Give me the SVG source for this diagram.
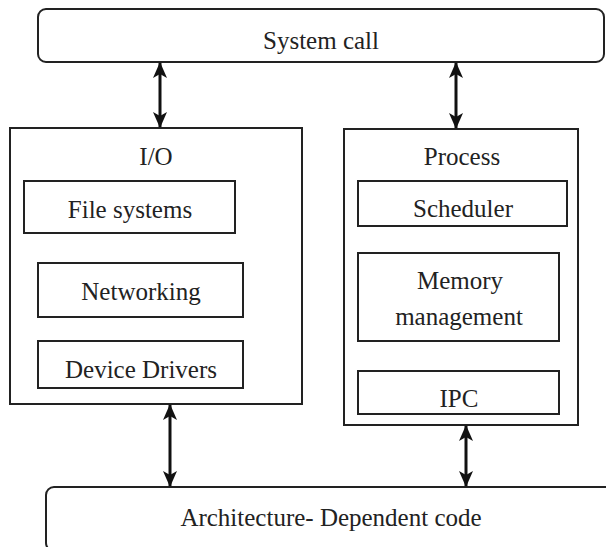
<svg xmlns="http://www.w3.org/2000/svg" width="606" height="547" viewBox="0 0 606 547">
<defs>
<style>
.box{fill:#fff;stroke:#222;stroke-width:2}
.t{font-family:"Liberation Serif","Times New Roman",serif;font-size:25px;fill:#222;text-anchor:middle}
.c{stroke:#111;stroke-width:3;fill:none}
</style>
<marker id="ah" viewBox="0 0 16 14" refX="15" refY="7" markerWidth="16" markerHeight="14" markerUnits="userSpaceOnUse" orient="auto-start-reverse">
<path d="M0,0 L16,7 L0,14 L4,7 Z" fill="#111"/>
</marker>
</defs>
<rect width="606" height="547" fill="#fff"/>
<g id="syscall">
<rect class="box" x="38" y="9" width="566" height="53" rx="8"/>
<text class="t" x="321" y="49">System call</text>
</g>
<g id="io">
<rect class="box" x="10" y="128" width="292" height="276"/>
<text class="t" x="156" y="165">I/O</text>
</g>
<g id="filesystems">
<rect class="box" x="24" y="181" width="211" height="52"/>
<text class="t" x="130" y="218">File systems</text>
</g>
<g id="networking">
<rect class="box" x="38" y="263" width="205" height="54"/>
<text class="t" x="141" y="300">Networking</text>
</g>
<g id="devicedrivers">
<rect class="box" x="38" y="341" width="205" height="47"/>
<text class="t" x="141" y="378">Device Drivers</text>
</g>
<g id="process">
<rect class="box" x="344" y="129" width="234" height="296"/>
<text class="t" x="462" y="165">Process</text>
</g>
<g id="scheduler">
<rect class="box" x="358" y="181" width="209" height="45"/>
<text class="t" x="463" y="217">Scheduler</text>
</g>
<g id="memory">
<rect class="box" x="358" y="253" width="201" height="88"/>
<text class="t" x="460" y="289">Memory</text>
<text class="t" x="459" y="325">management</text>
</g>
<g id="ipc">
<rect class="box" x="358" y="371" width="201" height="43"/>
<text class="t" x="459" y="407">IPC</text>
</g>
<g id="arch">
<rect class="box" x="46" y="487" width="570" height="64" rx="8"/>
<text class="t" x="331" y="526">Architecture- Dependent code</text>
</g>
<g id="connectors">
<line class="c" x1="160" y1="63" x2="160" y2="127" marker-start="url(#ah)" marker-end="url(#ah)"/>
<line class="c" x1="456" y1="63" x2="456" y2="128" marker-start="url(#ah)" marker-end="url(#ah)"/>
<line class="c" x1="170" y1="405" x2="170" y2="486" marker-start="url(#ah)" marker-end="url(#ah)"/>
<line class="c" x1="466" y1="426" x2="466" y2="486" marker-start="url(#ah)" marker-end="url(#ah)"/>
</g>
</svg>
